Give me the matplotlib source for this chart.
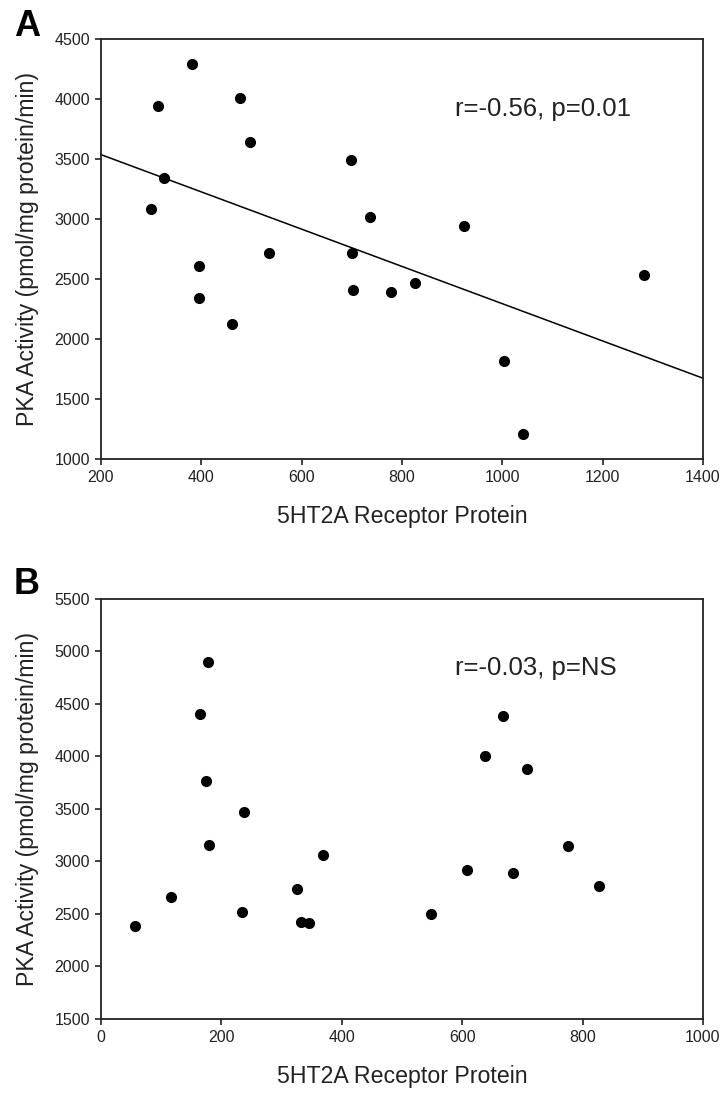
import numpy as np
import matplotlib
matplotlib.use("Agg")
import matplotlib.pyplot as plt

plt.rcParams['font.family'] = ['Liberation Sans', 'DejaVu Sans']

# panel A: 5HT2A receptor protein vs PKA activity
a_x = [381, 313, 477, 498, 698, 325, 300, 395, 395, 461,
       535, 700, 703, 737, 923, 779, 826, 1004, 1042, 1283]
a_y = [4290, 3945, 4005, 3640, 3490, 3345, 3080, 2610, 2345, 2125,
       2720, 2715, 2410, 3015, 2945, 2395, 2470, 1815, 1210, 2535]
a_stat = "r=-0.56, p=0.01"

# panel B
b_x = [177, 165, 175, 237, 179, 56, 117, 235, 326, 369,
       333, 345, 668, 638, 707, 548, 608, 684, 776, 827]
b_y = [4900, 4400, 3770, 3475, 3155, 2390, 2660, 2520, 2735, 3060,
       2420, 2415, 4390, 4000, 3885, 2495, 2915, 2890, 3150, 2770]
b_stat = "r=-0.03, p=NS"

xlabel = "5HT2A Receptor Protein"
ylabel = "PKA Activity (pmol/mg protein/min)"

fig = plt.figure(figsize=(7.26, 10.96), dpi=100)
axA = fig.add_axes([0.1391, 0.5812, 0.8292, 0.3832])
axB = fig.add_axes([0.1391, 0.0703, 0.8292, 0.3832])


def style(ax, xlim, ylim, xstep, ystep):
    ax.set_xlim(*xlim)
    ax.set_ylim(*ylim)
    ax.set_xticks(np.arange(xlim[0], xlim[1] + 1, xstep))
    ax.set_yticks(np.arange(ylim[0], ylim[1] + 1, ystep))
    for s in ax.spines.values():
        s.set_linewidth(1.3)
        s.set_color('#222222')
    ax.tick_params(direction='out', length=4, width=1.2, pad=4,
                   labelsize=11.5, colors='#222222', top=False, right=False)
    ax.set_xlabel(xlabel, fontsize=16.7, color='#222222', labelpad=14)
    ax.set_ylabel(ylabel, fontsize=16.7, color='#222222', labelpad=11)


# A
axA.plot(a_x, a_y, 'o', color='black', ms=7, zorder=3)
coef = np.polyfit(a_x, a_y, 1)
xl = np.array([200, 1400])
axA.plot(xl, np.polyval(coef, xl), color='black', lw=1.1, clip_on=False)
axA.text(906, 3917, a_stat, fontsize=18.5, ha='left', va='center', color='#222222')
style(axA, (200, 1400), (1000, 4500), 200, 500)

# B
axB.plot(b_x, b_y, 'o', color='black', ms=7, zorder=3)
axB.text(588, 4843, b_stat, fontsize=18.5, ha='left', va='center', color='#222222')
style(axB, (0, 1000), (1500, 5500), 200, 500)

fig.text(27 / 726, 1 - 26 / 1096, "A", fontsize=26, fontweight='bold',
         ha='center', va='center')
fig.text(27 / 726, 1 - 585 / 1096, "B", fontsize=26, fontweight='bold',
         ha='center', va='center')

fig.savefig("out.png", dpi=100)
